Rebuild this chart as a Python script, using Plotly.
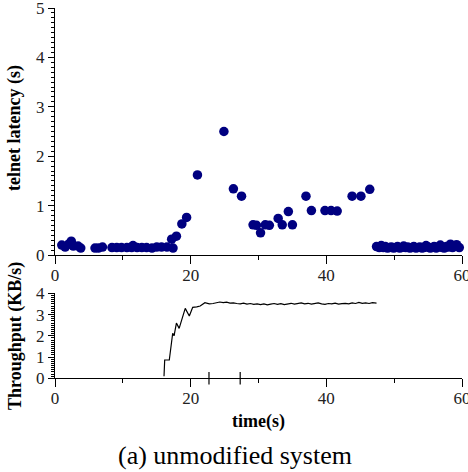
import plotly.graph_objects as go

# ---- data: telnet latency (s) vs time (s)
lat_t = [1.0, 1.5, 2.0, 2.4, 2.7, 3.4, 3.8,
         5.9, 6.4, 7.0,
         8.4, 9.1, 9.8, 10.6, 11.3, 11.5, 12.1, 12.8, 13.5, 14.3, 15.0, 15.7, 16.5,
         17.4, 17.2, 17.9, 18.7, 19.4, 21.0, 24.9, 26.3, 27.5,
         29.2, 29.7, 30.3, 31.0, 31.6, 32.9, 33.5, 34.4, 35.0,
         37.0, 37.8, 39.8, 40.7, 41.6, 43.8, 45.1, 46.4,
         47.4, 47.8, 48.1, 48.4, 48.7, 49.0, 49.3, 49.6, 49.9, 50.2, 50.5, 50.8,
         51.1, 51.4, 51.7, 52.0, 52.3, 52.6, 52.9, 53.2, 53.5, 53.8, 54.1, 54.4,
         54.7, 55.0, 55.3, 55.6, 55.9, 56.2, 56.5, 56.8, 57.1, 57.4, 57.7, 58.0,
         58.3, 58.6, 58.9, 59.2, 59.6]
lat_v = [0.20, 0.16, 0.22, 0.28, 0.18, 0.18, 0.14,
         0.14, 0.14, 0.16,
         0.15, 0.15, 0.15, 0.15, 0.15, 0.19, 0.15, 0.15, 0.15, 0.14, 0.16, 0.16, 0.16,
         0.14, 0.32, 0.38, 0.63, 0.76, 1.62, 2.50, 1.34, 1.19,
         0.61, 0.60, 0.45, 0.61, 0.60, 0.74, 0.61, 0.88, 0.61,
         1.19, 0.90, 0.90, 0.90, 0.89, 1.19, 1.19, 1.33,
         0.17, 0.15, 0.19, 0.15, 0.17, 0.14, 0.15, 0.16, 0.14, 0.15, 0.17, 0.14,
         0.15, 0.18, 0.15, 0.16, 0.14, 0.15, 0.17, 0.14, 0.15, 0.16, 0.14, 0.15,
         0.19, 0.16, 0.14, 0.15, 0.17, 0.14, 0.16, 0.20, 0.15, 0.14, 0.17, 0.16,
         0.22, 0.15, 0.17, 0.21, 0.15]

# ---- data: throughput (KB/s) vs time (s)
thr_t = [16.07, 16.17, 16.85, 17.05, 17.35, 17.55, 17.9, 18.3, 18.7, 19.2, 19.8,
         20.3, 20.9, 21.4, 22.1, 22.75, 23.3, 23.8, 24.3, 24.8, 25.3, 25.8, 26.3,
         26.8, 27.3, 27.8, 28.3, 28.8, 29.3, 29.8, 30.3, 30.8, 31.3, 31.8, 32.3,
         32.8, 33.3, 33.8, 34.3, 34.8, 35.3, 35.8, 36.3, 36.8, 37.3, 37.8, 38.3,
         38.8, 39.3, 39.8, 40.3, 40.8, 41.3, 41.8, 42.3, 42.8, 43.3, 43.8, 44.3,
         44.8, 45.3, 45.8, 46.3, 46.8, 47.4]
thr_v = [0.10, 0.86, 0.86, 1.49, 2.12, 2.00, 2.60, 2.35, 2.78, 3.29, 2.93,
         3.34, 3.36, 3.40, 3.56, 3.50, 3.52, 3.55, 3.59, 3.56, 3.58, 3.54, 3.55,
         3.52, 3.50, 3.54, 3.49, 3.52, 3.48, 3.50, 3.47, 3.50, 3.46, 3.49, 3.52,
         3.48, 3.51, 3.47, 3.50, 3.53, 3.49, 3.52, 3.55, 3.50, 3.53, 3.49, 3.51,
         3.55, 3.50, 3.48, 3.52, 3.50, 3.54, 3.49, 3.51, 3.53, 3.50, 3.55, 3.52,
         3.57, 3.53, 3.55, 3.52, 3.56, 3.54]

mark_t = [22.7, 27.3]
mark_v = [0, 0]

x_ticks = [0, 20, 40, 60]
lat_ticks = [0, 1, 2, 3, 4, 5]
thr_ticks = [0, 1, 2, 3, 4]

W, H = 468, 472
def px_x(p): return p / W
def px_y(p): return 1 - p / H

FONT = "Liberation Serif, Times New Roman, serif"

fig = go.Figure()
fig.add_trace(go.Scatter(x=lat_t, y=lat_v, mode="markers",
                         marker=dict(color="#000080", size=9.5),
                         cliponaxis=False, xaxis="x", yaxis="y", showlegend=False))
fig.add_trace(go.Scatter(x=thr_t, y=thr_v, mode="lines",
                         line=dict(color="black", width=1.2),
                         xaxis="x2", yaxis="y2", showlegend=False))
fig.add_trace(go.Scatter(x=mark_t, y=mark_v, mode="markers",
                         marker=dict(symbol="line-ns-open", size=9, color="black",
                                     line=dict(color="black", width=1.2)),
                         cliponaxis=False, xaxis="x2", yaxis="y2", showlegend=False))

xdom = [px_x(55), px_x(462)]
axis_common = dict(showline=True, linecolor="black", linewidth=1.3,
                   ticks="outside", tickcolor="black", tickwidth=1.2,
                   showgrid=False, zeroline=False, automargin=False,
                   ticklabeloverflow="allow",
                   tickfont=dict(family=FONT, size=17, color="#222"))

fig.update_layout(
    template="none",
    width=W, height=H,
    margin=dict(l=0, r=0, t=0, b=0, pad=0),
    paper_bgcolor="white", plot_bgcolor="white",
    xaxis=dict(domain=xdom, range=[0, 60], tickvals=x_ticks, ticklen=8, ticklabelstandoff=-4,
               minor=dict(dtick=10, ticklen=4, tickcolor="black", ticks="outside"),
               anchor="y", **axis_common),
    yaxis=dict(domain=[px_y(255), px_y(8)], range=[0, 5], tickvals=lat_ticks, ticklen=6,
               minor=dict(dtick=0.1, ticklen=3, tickcolor="black", ticks="outside"),
               anchor="x", **axis_common),
    xaxis2=dict(domain=xdom, range=[0, 60], tickvals=x_ticks, ticklen=8, ticklabelstandoff=-4,
                minor=dict(dtick=10, ticklen=4, tickcolor="black", ticks="outside"),
                anchor="y2", **axis_common),
    yaxis2=dict(domain=[px_y(378.3), px_y(293.3)], range=[0, 4], tickvals=thr_ticks, ticklen=6,
                minor=dict(dtick=0.1, ticklen=3, tickcolor="black", ticks="outside"),
                anchor="x2", **axis_common),
    annotations=[
        dict(text="<b>telnet latency (s)</b>", x=px_x(15), y=px_y(128), xref="paper", yref="paper",
             xanchor="center", yanchor="middle",
             textangle=-90, showarrow=False, font=dict(family=FONT, size=18, color="black")),
        dict(text="<b>Throughput (KB/s)</b>", x=px_x(15), y=px_y(336), xref="paper", yref="paper",
             xanchor="center", yanchor="middle",
             textangle=-90, showarrow=False, font=dict(family=FONT, size=18, color="black")),
        dict(text="<b>time(s)</b>", x=px_x(258), y=px_y(421), xref="paper", yref="paper",
             xanchor="center", yanchor="middle",
             showarrow=False, font=dict(family=FONT, size=18, color="black")),
        dict(text="(a) unmodified system", x=px_x(235), y=px_y(455), xref="paper", yref="paper",
             xanchor="center", yanchor="middle",
             showarrow=False, font=dict(family=FONT, size=26, color="black")),
    ],
)

fig.write_html("out.html")
